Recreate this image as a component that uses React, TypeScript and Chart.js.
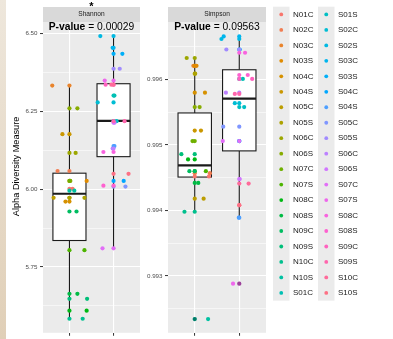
import React, { useEffect, useRef } from 'react';
import { Chart, registerables } from 'chart.js';

Chart.register(...registerables);
Chart.defaults.font.family = '"Liberation Sans", Arial, Helvetica, sans-serif';

// ---------------- data ----------------
const sampleNames = [
  'N01C', 'N02C', 'N03C', 'N03S', 'N04C', 'N04S', 'N05C', 'N05S', 'N06C', 'N06S',
  'N07C', 'N07S', 'N08C', 'N08S', 'N09C', 'N09S', 'N10C', 'N10S', 'S01C', 'S01S',
  'S02C', 'S02S', 'S03C', 'S03S', 'S04C', 'S04S', 'S05C', 'S05S', 'S06C', 'S06S',
  'S07C', 'S07S', 'S08C', 'S08S', 'S09C', 'S09S', 'S10C', 'S10S',
];
// x category (1 = N group, 2 = S group)
const sampleGroup = sampleNames.map((n) => (n[0] === 'N' ? 1 : 2));

const shannonValues = [
  6.001, 6.058, 6.332, 6.026, 5.960, 6.176, 5.972, 5.972, 6.116, 6.259,
  6.026, 5.804, 5.610, 5.664, 5.928, 5.648, 5.584, 5.995, 6.300, 6.218,
  6.278, 6.491, 6.453, 6.434, 6.026, 6.138, 6.008, 6.386, 6.130, 6.213,
  5.810, 6.348, 6.119, 6.011, 6.335, 6.218, 6.335, 6.049,
];
const shannonJitter = [
  0.07, -0.27, -0.39, 0.39, -0.09, -0.16, -0.36, 0.34, 0.14, 0.18,
  0.02, 0.34, 0.39, 0.18, 0.16, 0.4, 0.3, 0.11, 0.02, 0.07,
  -0.36, -0.3, -0.02, 0.2, 0.23, 0.02, 0.27, 0.14, -0.02, 0.02,
  -0.25, -0.2, -0.23, -0.23, -0.18, 0.25, -0.05, 0.34,
];
const simpsonValues = [
  0.99452, 0.99457, 0.99621, 0.99621, 0.9958, 0.99522, 0.99418, 0.99609, 0.99633, 0.99558,
  0.99506, 0.9946, 0.99478, 0.99442, 0.9946, 0.99486, 0.99398, 0.99234, 0.99601, 0.99558,
  0.99564, 0.99662, 0.99666, 0.99646, 0.99506, 0.99389, 0.99528, 0.99646, 0.9958, 0.99448,
  0.99506, 0.99288, 0.99641, 0.99607, 0.99601, 0.99578, 0.99441, 0.99408,
];
const simpsonJitter = [
  0.32, 0.34, -0.03, 0.04, 0.23, 0.14, 0.2, 0.01, -0.18, 0.11,
  -0.05, 0.25, -0.15, 0.08, -0.12, -0.3, -0.23, 0.3, 0.08, 0.11,
  -0.1, -0.4, -0.35, 0.01, 0.0, -0.01, -0.36, -0.29, -0.3, 0.01,
  -0.37, -0.14, 0.13, 0.19, 0.29, -0.1, 0.21, 0.0,
];

const groupCategories = [1, 2];
// box statistics per group (N, S)
const shannonWhiskerLow = [5.584, 5.81];
const shannonQ1 = [5.835, 6.104];
const shannonMedian = [5.985, 6.219];
const shannonQ3 = [6.051, 6.338];
const shannonWhiskerHigh = [6.332, 6.491];
const shannonOutliers: number[][] = [[], []];

const simpsonWhiskerLow = [0.99398, 0.99389];
const simpsonQ1 = [0.99451, 0.99491];
const simpsonMedian = [0.99469, 0.99571];
const simpsonQ3 = [0.99549, 0.99615];
const simpsonWhiskerHigh = [0.99633, 0.99666];
const simpsonOutliers = [[0.99234], [0.99288]];

const shannonMajorTicks = [5.75, 6.0, 6.25, 6.5];
const shannonTickLabels = ['5.75', '6.00', '6.25', '6.50'];
const shannonMinorTicks = [5.625, 5.875, 6.125, 6.375];
const simpsonMajorTicks = [0.993, 0.994, 0.995, 0.996];
const simpsonTickLabels = ['0.993', '0.994', '0.995', '0.996'];
const simpsonMinorTicks = [0.9925, 0.9935, 0.9945, 0.9955, 0.9965];

const shannonRange = [5.539, 6.536];
const simpsonRange = [0.99213, 0.99688];

const shannonTitle = 'Shannon';
const simpsonTitle = 'Simpson';
const shannonPValue = '0.00029';
const simpsonPValue = '0.09563';
const shannonStar = '*';
const yAxisTitle = 'Alpha Diversity Measure';

// ---------------- colours (ggplot2 hue palette) ----------------
function hcl(h: number, c: number, l: number): string {
  const Xn = 95.047, Yn = 100.0, Zn = 108.883;
  const hr = (h * Math.PI) / 180;
  const U = c * Math.cos(hr);
  const V = c * Math.sin(hr);
  const Y = Yn * (l > 7.999592 ? Math.pow((l + 16) / 116, 3) : l / 903.3);
  const den = Xn + 15 * Yn + 3 * Zn;
  const un = (4 * Xn) / den;
  const vn = (9 * Yn) / den;
  const uu = U / (13 * l) + un;
  const vv = V / (13 * l) + vn;
  const X = (9 * Y * uu) / (4 * vv);
  const Z = -X / 3 - 5 * Y + (3 * Y) / vv;
  const g = (u: number) => (u > 0.00304 ? 1.055 * Math.pow(u, 1 / 2.4) - 0.055 : 12.92 * u);
  const r = g((3.240479 * X - 1.53715 * Y - 0.498535 * Z) / Yn);
  const gg = g((-0.969256 * X + 1.875992 * Y + 0.041556 * Z) / Yn);
  const b = g((0.055648 * X - 0.204043 * Y + 1.057311 * Z) / Yn);
  const to = (v: number) => Math.round(Math.max(0, Math.min(1, v)) * 255);
  return `rgb(${to(r)},${to(gg)},${to(b)})`;
}
const sampleColors = sampleNames.map((_, i) => hcl(15 + (i * 360) / sampleNames.length, 100, 65));

const FONT = '"Liberation Sans", Arial, Helvetica, sans-serif';

const near = (a: number, b: number) => Math.abs(a - b) < 1e-9;

interface PanelSpec {
  values: number[];
  jitter: number[];
  range: number[];
  major: number[];
  labels: string[];
  minor: number[];
  wLow: number[];
  q1: number[];
  med: number[];
  q3: number[];
  wHigh: number[];
  outliers: number[][];
  title: string;
  pValue: string;
  star?: string;
  padLeft: number;
  padRight: number;
  yWidth: number;
  yTitle?: string;
  legend?: boolean;
}

function panelConfig(p: PanelSpec): any {
  const centerPts = p.values.map((v, i) => ({ x: sampleGroup[i], y: v }));
  const jitterPts = p.values.map((v, i) => ({ x: sampleGroup[i] + p.jitter[i], y: v }));
  const allTicks = [...p.major, ...p.minor].sort((a, b) => a - b);
  const isMajor = (v: number) => p.major.some((m) => near(m, v));

  const panelPlugin = {
    id: 'panel_' + p.title,
    beforeDraw(chart: any) {
      const { ctx, chartArea: a } = chart;
      ctx.save();
      ctx.fillStyle = '#EBEBEB';
      ctx.fillRect(a.left, a.top, a.right - a.left, a.bottom - a.top);
      // strip
      ctx.fillStyle = '#D9D9D9';
      ctx.fillRect(a.left, a.top - 15, a.right - a.left, 15);
      ctx.fillStyle = '#1A1A1A';
      ctx.font = `6.6px ${FONT}`;
      ctx.textAlign = 'center';
      ctx.textBaseline = 'middle';
      ctx.fillText(p.title, (a.left + a.right) / 2, a.top - 7.5);
      if (p.star) {
        ctx.fillStyle = '#000';
        ctx.font = `bold 11px ${FONT}`;
        ctx.textBaseline = 'alphabetic';
        ctx.fillText(p.star, (a.left + a.right) / 2, 10);
      }
      if (p.yTitle) {
        ctx.save();
        ctx.translate(16, (a.top + a.bottom) / 2 - 11);
        ctx.rotate(-Math.PI / 2);
        ctx.fillStyle = '#000';
        ctx.font = `9.2px ${FONT}`;
        ctx.textAlign = 'center';
        ctx.textBaseline = 'middle';
        ctx.fillText(p.yTitle, 0, 0);
        ctx.restore();
      }
      ctx.restore();
    },
    beforeDatasetsDraw(chart: any) {
      const { ctx } = chart;
      const xs = chart.scales.x;
      const ys = chart.scales.y;
      const half = 0.375;
      ctx.save();
      groupCategories.forEach((g, i) => {
        const cx = xs.getPixelForValue(g);
        const x0 = xs.getPixelForValue(g - half);
        const x1 = xs.getPixelForValue(g + half);
        ctx.strokeStyle = '#1A1A1A';
        ctx.lineWidth = 1.1;
        ctx.beginPath();
        ctx.moveTo(cx, ys.getPixelForValue(p.wLow[i]));
        ctx.lineTo(cx, ys.getPixelForValue(p.q1[i]));
        ctx.moveTo(cx, ys.getPixelForValue(p.q3[i]));
        ctx.lineTo(cx, ys.getPixelForValue(p.wHigh[i]));
        ctx.stroke();
        const yq3 = ys.getPixelForValue(p.q3[i]);
        const yq1 = ys.getPixelForValue(p.q1[i]);
        ctx.fillStyle = '#FFFFFF';
        ctx.fillRect(x0, yq3, x1 - x0, yq1 - yq3);
        ctx.strokeRect(x0, yq3, x1 - x0, yq1 - yq3);
        ctx.lineWidth = 2.2;
        ctx.beginPath();
        const ym = ys.getPixelForValue(p.med[i]);
        ctx.moveTo(x0, ym);
        ctx.lineTo(x1, ym);
        ctx.stroke();
      });
      ctx.restore();
    },
    afterDatasetsDraw(chart: any) {
      const { ctx, chartArea: a } = chart;
      const xs = chart.scales.x;
      const ys = chart.scales.y;
      ctx.save();
      ctx.fillStyle = 'rgba(0,0,0,0.35)';
      groupCategories.forEach((g, i) => {
        p.outliers[i].forEach((v) => {
          ctx.beginPath();
          ctx.arc(xs.getPixelForValue(g), ys.getPixelForValue(v), 2.1, 0, Math.PI * 2);
          ctx.fill();
        });
      });
      // p-value annotation
      const cx = xs.getPixelForValue(1.5);
      const bold = 'P-value';
      const rest = ' = ' + p.pValue;
      const fs = 10.3;
      ctx.font = `bold ${fs}px ${FONT}`;
      const w1 = ctx.measureText(bold).width;
      ctx.font = `${fs}px ${FONT}`;
      const w2 = ctx.measureText(rest).width;
      const sx = cx - (w1 + w2) / 2;
      const ty = a.top + 5.5;
      ctx.fillStyle = '#000';
      ctx.textBaseline = 'middle';
      ctx.textAlign = 'left';
      ctx.font = `bold ${fs}px ${FONT}`;
      ctx.fillText(bold, sx, ty);
      ctx.font = `${fs}px ${FONT}`;
      ctx.fillText(rest, sx + w1, ty);
      ctx.restore();
    },
    afterDraw(chart: any) {
      if (!p.legend) return;
      const { ctx, chartArea: a } = chart;
      const perCol = Math.ceil(sampleNames.length / 2);
      const rowH = 15.47;
      const top = 6.7;
      const keyW = 16.5;
      ctx.save();
      for (let col = 0; col < 2; col++) {
        const kx = a.right + 7 + col * 45;
        const n = Math.min(perCol, sampleNames.length - col * perCol);
        ctx.fillStyle = '#EBEBEB';
        ctx.fillRect(kx, top, keyW, rowH * n);
        for (let r = 0; r < n; r++) {
          const idx = col * perCol + r;
          const cy = top + rowH * (r + 0.5);
          ctx.fillStyle = sampleColors[idx];
          ctx.beginPath();
          ctx.arc(kx + keyW / 2, cy, 1.9, 0, Math.PI * 2);
          ctx.fill();
          ctx.fillStyle = '#1A1A1A';
          ctx.font = `8px ${FONT}`;
          ctx.textAlign = 'left';
          ctx.textBaseline = 'middle';
          ctx.fillText(sampleNames[idx], kx + 20, cy);
        }
      }
      ctx.restore();
    },
  };

  return {
    type: 'scatter',
    data: {
      datasets: [
        {
          data: centerPts,
          pointBackgroundColor: sampleColors,
          pointBorderWidth: 0,
          pointRadius: 2.1,
        },
        {
          data: jitterPts,
          pointBackgroundColor: sampleColors,
          pointBorderWidth: 0,
          pointRadius: 2.1,
        },
      ],
    },
    options: {
      responsive: false,
      animation: false,
      events: [],
      layout: { padding: { left: p.padLeft, right: p.padRight, top: 22, bottom: 0 } },
      plugins: { legend: { display: false }, tooltip: { enabled: false } },
      scales: {
        x: {
          type: 'linear',
          min: 0.4,
          max: 2.6,
          afterBuildTicks: (s: any) => {
            s.ticks = groupCategories.map((v) => ({ value: v }));
          },
          afterFit: (s: any) => {
            s.height = 4;
          },
          ticks: { callback: () => '', padding: 0 },
          grid: { color: '#FFFFFF', lineWidth: 1.1, tickColor: '#333333', tickLength: 3, tickWidth: 1 },
          border: { display: false },
        },
        y: {
          type: 'linear',
          min: p.range[0],
          max: p.range[1],
          afterBuildTicks: (s: any) => {
            s.ticks = allTicks.map((v) => ({ value: v }));
          },
          afterFit: (s: any) => {
            s.width = p.yWidth;
          },
          ticks: {
            callback: (v: number) => {
              const k = p.major.findIndex((m) => near(m, v));
              return k >= 0 ? p.labels[k] : '';
            },
            color: '#4D4D4D',
            font: { size: 6.2 },
            padding: 2.5,
            autoSkip: false,
          },
          grid: {
            color: '#FFFFFF',
            lineWidth: (c: any) => (c.tick && isMajor(c.tick.value) ? 1.1 : 0.55),
            tickColor: (c: any) => (c.tick && isMajor(c.tick.value) ? '#333333' : 'rgba(0,0,0,0)'),
            tickLength: 3,
            tickWidth: 1,
          },
          border: { display: false },
          title: { display: false },
        },
      },
    },
    plugins: [panelPlugin],
  };
}

export default function App() {
  const refA = useRef<HTMLCanvasElement>(null);
  const refB = useRef<HTMLCanvasElement>(null);

  useEffect(() => {
    const a = new Chart(
      refA.current as HTMLCanvasElement,
      panelConfig({
        values: shannonValues,
        jitter: shannonJitter,
        range: shannonRange,
        major: shannonMajorTicks,
        labels: shannonTickLabels,
        minor: shannonMinorTicks,
        wLow: shannonWhiskerLow,
        q1: shannonQ1,
        med: shannonMedian,
        q3: shannonQ3,
        wHigh: shannonWhiskerHigh,
        outliers: shannonOutliers,
        title: shannonTitle,
        pValue: shannonPValue,
        star: shannonStar,
        padLeft: 0,
        padRight: 253,
        yWidth: 43,
        yTitle: yAxisTitle,
      })
    );
    const b = new Chart(
      refB.current as HTMLCanvasElement,
      panelConfig({
        values: simpsonValues,
        jitter: simpsonJitter,
        range: simpsonRange,
        major: simpsonMajorTicks,
        labels: simpsonTickLabels,
        minor: simpsonMinorTicks,
        wLow: simpsonWhiskerLow,
        q1: simpsonQ1,
        med: simpsonMedian,
        q3: simpsonQ3,
        wHigh: simpsonWhiskerHigh,
        outliers: simpsonOutliers,
        title: simpsonTitle,
        pValue: simpsonPValue,
        padLeft: 140,
        padRight: 127,
        yWidth: 28,
        legend: true,
      })
    );
    return () => {
      a.destroy();
      b.destroy();
    };
  }, []);

  return (
    <div
      style={{
        position: 'fixed',
        left: 0,
        top: 0,
        width: 393,
        height: 339,
        background: '#FFFFFF',
        overflow: 'hidden',
      }}
    >
      <div
        style={{
          position: 'absolute',
          left: 0,
          top: 0,
          width: 6,
          height: 339,
          background: 'linear-gradient(#eee7dc, #e0cfb7)',
        }}
      />
      <canvas ref={refA} width={393} height={339} style={{ position: 'absolute', left: 0, top: 0 }} />
      <canvas ref={refB} width={393} height={339} style={{ position: 'absolute', left: 0, top: 0 }} />
    </div>
  );
}
